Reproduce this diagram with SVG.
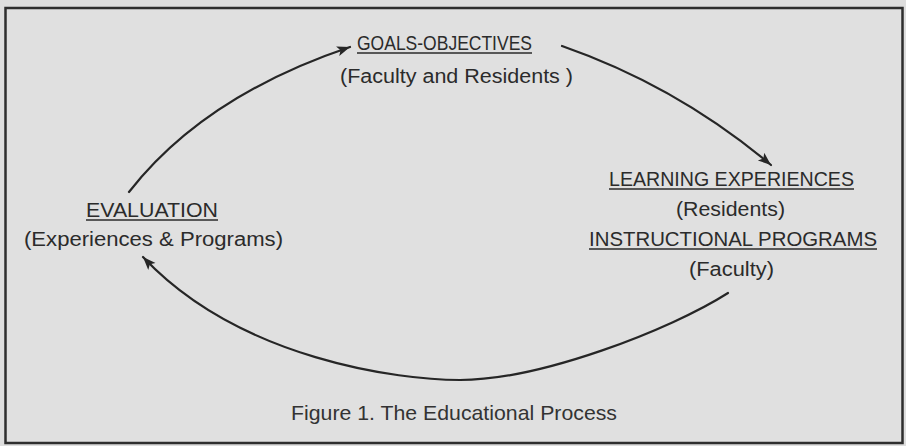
<svg xmlns="http://www.w3.org/2000/svg" width="906" height="446" viewBox="0 0 906 446">
  <style>
    .lbl { font-family: "Liberation Sans", "DejaVu Sans", sans-serif; font-size: 20px; fill: #2b2b2b; }
    .cap { font-family: "Liberation Sans", "DejaVu Sans", sans-serif; font-size: 21px; fill: #333333; }
    .ul { stroke: #2b2b2b; stroke-width: 1.6; }
    .conn { fill: none; stroke: #262626; stroke-width: 2.2; stroke-linecap: round; marker-end: url(#arrow); }
  </style>
  <defs>
    <marker id="arrow" markerUnits="userSpaceOnUse" markerWidth="16" markerHeight="12" refX="13" refY="5" orient="auto">
      <path d="M0,0 L13,5 L0,10 L3,5 Z" fill="#262626"/>
    </marker>
  </defs>

  <!-- page and frame -->
  <rect x="0" y="0" width="906" height="446" fill="#dedede"/>
  <rect x="5.5" y="8" width="897" height="435" fill="#e0e0e0" stroke="#2e2e2e" stroke-width="2.5"/>

  <!-- cycle connectors -->
  <g id="connectors">
    <path class="conn" d="M129,192 Q204,96 350,47"/>
    <path class="conn" d="M562,46 Q677,86 771,165"/>
    <path class="conn" d="M728,293 C670,330 540,380 460,380 C400,380 240,360 143,257"/>
  </g>

  <g id="goals">
    <text class="lbl" x="357" y="50" textLength="175" lengthAdjust="spacingAndGlyphs">GOALS-OBJECTIVES</text>
    <line class="ul" x1="357" y1="53" x2="532" y2="53"/>
    <text class="lbl" x="340" y="83" textLength="233" lengthAdjust="spacingAndGlyphs">(Faculty and Residents )</text>
  </g>

  <g id="learning">
    <text class="lbl" x="609" y="186" textLength="245" lengthAdjust="spacingAndGlyphs">LEARNING EXPERIENCES</text>
    <line class="ul" x1="609" y1="189" x2="854" y2="189"/>
    <text class="lbl" x="676" y="216" textLength="109" lengthAdjust="spacingAndGlyphs">(Residents)</text>
    <text class="lbl" x="589" y="246" textLength="288" lengthAdjust="spacingAndGlyphs">INSTRUCTIONAL PROGRAMS</text>
    <line class="ul" x1="589" y1="249" x2="877" y2="249"/>
    <text class="lbl" x="689" y="276" textLength="85" lengthAdjust="spacingAndGlyphs">(Faculty)</text>
  </g>

  <g id="evaluation">
    <text class="lbl" x="86" y="217" textLength="132" lengthAdjust="spacingAndGlyphs">EVALUATION</text>
    <line class="ul" x1="86" y1="220" x2="218" y2="220"/>
    <text class="lbl" x="24" y="246" textLength="259" lengthAdjust="spacingAndGlyphs">(Experiences &amp; Programs)</text>
  </g>

  <g id="caption">
    <text class="cap" x="291" y="420" textLength="326" lengthAdjust="spacingAndGlyphs">Figure 1. The Educational Process</text>
  </g>
</svg>
